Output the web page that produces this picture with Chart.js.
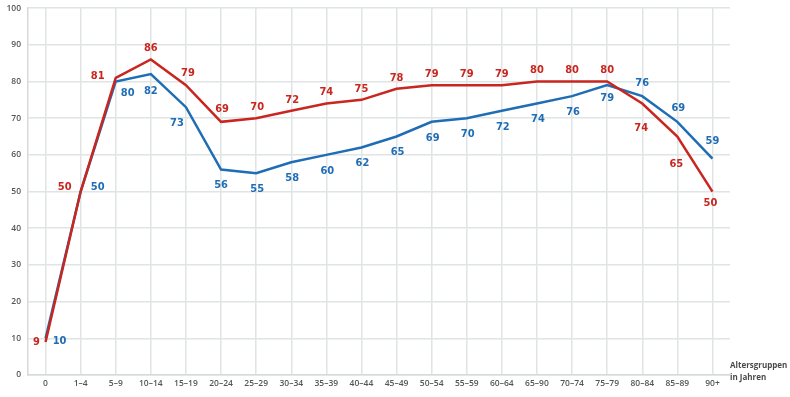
<!DOCTYPE html>
<html>
<head>
<meta charset="utf-8">
<script src="https://cdn.jsdelivr.net/npm/chart.js@4"></script>
<style>
  body { margin: 0; background: #fff; overflow: hidden; }
  #wrap { width: 790px; height: 401px; margin-top: -4px; }
</style>
</head>
<body>
<div id="wrap"><canvas id="myChart"></canvas></div>
<script>
const ageGroups = ["0", "1–4", "5–9", "10–14", "15–19", "20–24", "25–29", "30–34", "35–39", "40–44",
    "45–49", "50–54", "55–59", "60–64", "65–90", "70–74", "75–79", "80–84", "85–89", "90+"];
const redValues = [9, 50, 81, 86, 79, 69, 70, 72, 74, 75, 78, 79, 79, 79, 80, 80, 80, 74, 65, 50];
const blueValues = [10, 50, 80, 82, 73, 56, 55, 58, 60, 62, 65, 69, 70, 72, 74, 76, 79, 76, 69, 59];
const yTicks = [0, 10, 20, 30, 40, 50, 60, 70, 80, 90, 100];

const RED = "#c8261f";
const BLUE = "#1f6db4";

// label offsets (dx, dy) relative to each point
const redLabelPos = [[-9, 0], [-16, -4], [-18, -2], [0, -11], [2, -12], [1, -13], [1, -11], [1, -11], [0, -11],
    [0, -11], [0, -11], [0, -11], [0, -11], [0, -11], [0, -11], [0, -11], [0, -11], [-1, 25], [-1, 28], [-2, 12]];
const bluePos = [[14, 3], [17, -4], [12, 12], [0, 17], [-9, 16], [0, 16], [1, 16], [1, 16], [1, 16],
    [1, 16], [1, 16], [1, 16], [1, 16], [1, 16], [1, 16], [1, 16], [0, 13], [0, -13], [1, -14], [0, -17]];

const labelPlugin = {
    id: "pointLabels",
    afterDatasetsDraw(chart) {
        const ctx = chart.ctx;
        const offsets = [redLabelPos, bluePos];
        ctx.save();
        ctx.font = "bold 11px 'Liberation Sans Narrow', 'DejaVu Sans Condensed', sans-serif";
        ctx.textAlign = "center";
        ctx.textBaseline = "middle";
        chart.data.datasets.forEach((ds, di) => {
            const meta = chart.getDatasetMeta(di);
            ctx.fillStyle = ds.borderColor;
            meta.data.forEach((pt, i) => {
                const off = offsets[di][i];
                ctx.fillText(String(ds.data[i]), pt.x + off[0], pt.y + off[1]);
            });
        });
        // axis title at the right
        ctx.font = "bold 8px 'Open Sans', sans-serif";
        ctx.fillStyle = "#4a4a4a";
        ctx.textAlign = "left";
        ctx.fillText("Altersgruppen", 730, 370);
        ctx.fillText("in Jahren", 730, 382);
        ctx.restore();
    }
};

const ctx = document.getElementById("myChart").getContext("2d");
new Chart(ctx, {
    type: "line",
    data: {
        labels: ageGroups,
        datasets: [
            { data: redValues, borderColor: RED, borderWidth: 2.5, pointRadius: 0, tension: 0, fill: false },
            { data: blueValues, borderColor: BLUE, borderWidth: 2.5, pointRadius: 0, tension: 0, fill: false }
        ]
    },
    options: {
        responsive: true,
        maintainAspectRatio: false,
        animation: false,
        layout: { padding: { top: 3, right: 60, left: 0, bottom: 0 } },
        plugins: { legend: { display: false }, tooltip: { enabled: false } },
        scales: {
            x: {
                offset: true,
                grid: { offset: false, color: "#dfe4e4", lineWidth: 1.5, drawTicks: false },
                border: { color: "#d5dada", width: 1.5 },
                ticks: { color: "#555", font: { size: 8.5, weight: "600", family: "'Open Sans', sans-serif" }, padding: 3, maxRotation: 0, autoSkip: false },
                afterFit: s => { s.height = 22; }
            },
            y: {
                min: 0,
                max: 100,
                afterBuildTicks: s => { s.ticks = yTicks.map(v => ({ value: v })); },
                grid: { color: "#dfe4e4", lineWidth: 1.5, drawTicks: false },
                border: { color: "#d5dada", width: 1.5 },
                ticks: { color: "#555", font: { size: 8.5, weight: "600", family: "'Open Sans', sans-serif" }, padding: 7 },
                afterFit: s => { s.width = 28; }
            }
        }
    },
    plugins: [labelPlugin]
});
</script>
</body>
</html>
